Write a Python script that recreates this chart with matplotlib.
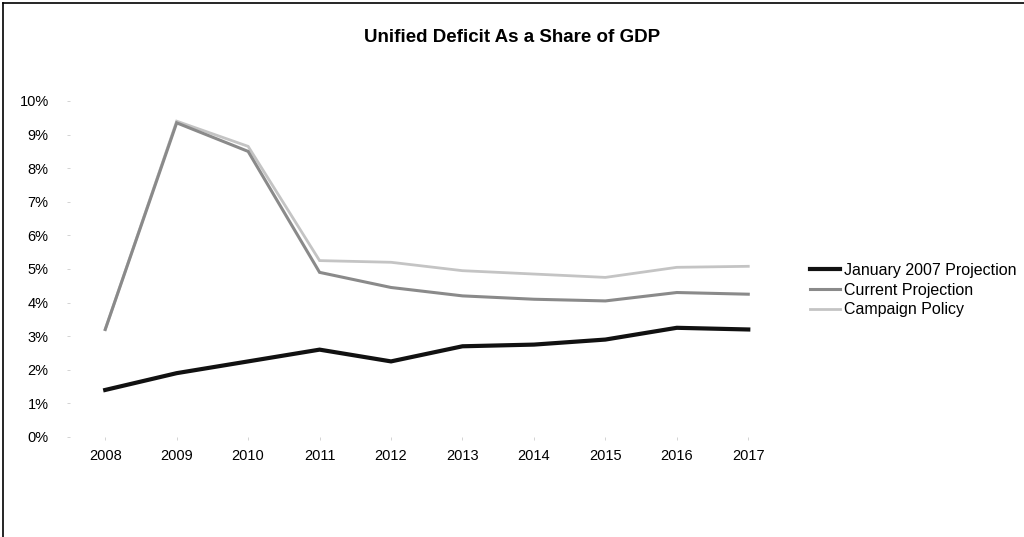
import matplotlib
matplotlib.use("Agg")
import matplotlib.pyplot as plt
from matplotlib.lines import Line2D

plt.rcParams['font.family'] = ['Liberation Sans', 'DejaVu Sans']

years = [2008, 2009, 2010, 2011, 2012, 2013, 2014, 2015, 2016, 2017]
jan2007 = [1.4, 1.9, 2.25, 2.6, 2.25, 2.7, 2.75, 2.9, 3.25, 3.2]
current = [3.2, 9.35, 8.5, 4.9, 4.45, 4.2, 4.1, 4.05, 4.3, 4.25]
campaign = [3.2, 9.4, 8.65, 5.25, 5.2, 4.95, 4.85, 4.75, 5.05, 5.08]
yticks = [0, 1, 2, 3, 4, 5, 6, 7, 8, 9, 10]
title = "Unified Deficit As a Share of GDP"
labels = ["January 2007 Projection", "Current Projection", "Campaign Policy"]

fig = plt.figure(figsize=(10.24, 5.37), dpi=100)
ax = fig.add_axes([69.5 / 1024, 1 - 437 / 537, (784 - 69.5) / 1024, (437 - 101) / 537])

x = list(range(len(years)))
ax.plot(x, campaign, color='#c4c4c4', lw=2.0, solid_joinstyle='miter', zorder=2)
ax.plot(x, current, color='#8a8a8a', lw=2.2, solid_joinstyle='miter', zorder=3)
ax.plot(x, jan2007, color='#111111', lw=3.0, solid_joinstyle='miter', zorder=4)

ax.set_xlim(-0.5, len(years) - 0.5)
ax.set_ylim(0, 10)
ax.set_xticks(x)
ax.set_xticklabels([str(y) for y in years], fontsize=10.5)
ax.set_yticks(yticks)
ax.set_yticklabels([f"{v}%" for v in yticks], fontsize=10.5)
for s in ax.spines.values():
    s.set_visible(False)
ax.tick_params(axis='both', length=2, color='#cccccc', width=0.6)
ax.tick_params(axis='y', pad=13)
ax.tick_params(axis='x', pad=7)

fig.text(0.5, 1 - 37 / 537, title, ha='center', va='center', fontsize=13.5, fontweight='bold')

handles = [
    Line2D([], [], color='#111111', lw=3.0),
    Line2D([], [], color='#8a8a8a', lw=2.2),
    Line2D([], [], color='#c4c4c4', lw=2.0),
]
leg = fig.legend(handles, labels, loc='center left', bbox_to_anchor=(810 / 1024, 1 - 290 / 537),
                 frameon=False, fontsize=11.5, handlelength=1.9, handletextpad=0.2,
                 labelspacing=0.3, borderaxespad=0, borderpad=0)

# figure border (left and top visible)
fig.add_artist(Line2D([3 / 1024, 3 / 1024], [0, 1 - 3 / 537], color='black', lw=1.2, transform=fig.transFigure))
fig.add_artist(Line2D([3 / 1024, 1], [1 - 3 / 537, 1 - 3 / 537], color='black', lw=1.2, transform=fig.transFigure))

fig.savefig("out.png", dpi=100, facecolor='white')
